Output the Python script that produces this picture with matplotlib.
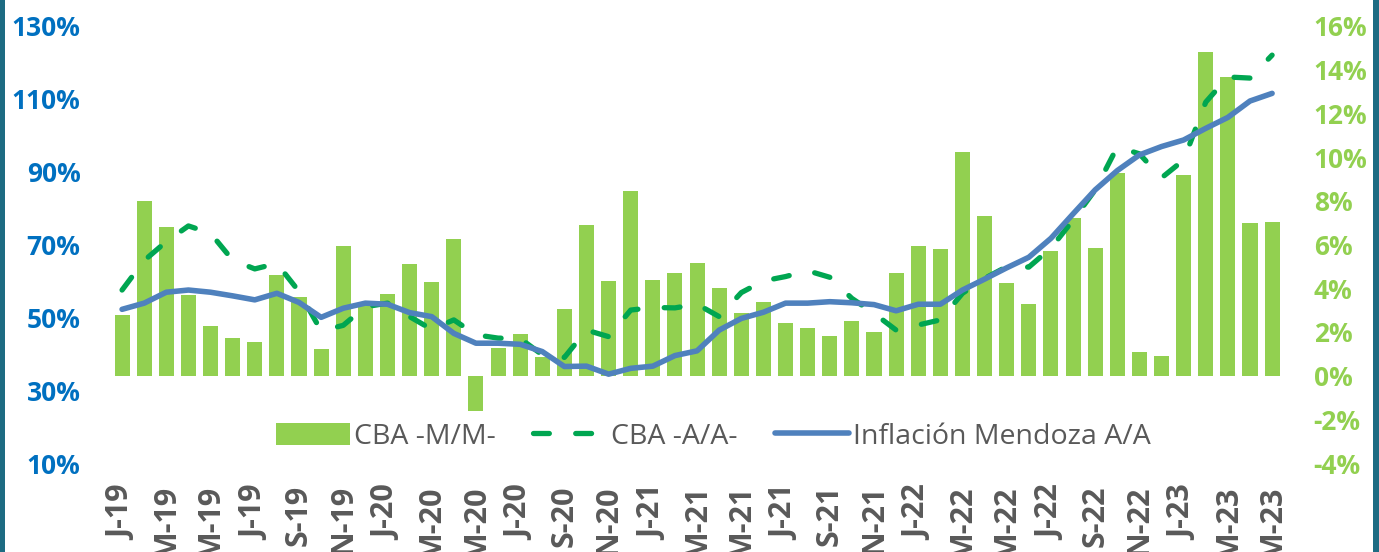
import numpy as np
import matplotlib
matplotlib.use("Agg")
import matplotlib.pyplot as plt
from matplotlib.patches import Rectangle

# meses ene-19 .. may-23
tick_labels = ["J-19", "M-19", "M-19", "J-19", "S-19", "N-19",
               "J-20", "M-20", "M-20", "J-20", "S-20", "N-20",
               "J-21", "M-21", "M-21", "J-21", "S-21", "N-21",
               "J-22", "M-22", "M-22", "J-22", "S-22", "N-22",
               "J-23", "M-23", "M-23"]

# CBA variacion mensual (eje derecho, %)
cba_mm = [2.79, 7.98, 6.81, 3.71, 2.29, 1.74, 1.52, 4.61, 3.62, 1.22,
          5.92, 3.25, 3.74, 5.09, 4.29, 6.26, -1.63, 1.25, 1.92, 0.87,
          3.07, 6.90, 4.32, 8.47, 4.36, 4.70, 5.17, 4.00, 2.88, 3.39,
          2.43, 2.20, 1.82, 2.52, 1.98, 4.70, 5.94, 5.80, 10.24, 7.32,
          4.22, 3.26, 5.72, 7.23, 5.84, 9.28, 1.08, 0.92, 9.19, 14.83,
          13.65, 6.99, 7.05]

# CBA variacion anual (eje izquierdo, %)
cba_aa = [57.5, 65.6, 70.8, 75.1, 73.1, 65.7, 63.3, 64.8, 57.1, 46.3,
          47.8, 52.9, 53.9, 50.2, 46.7, 49.3, 45.2, 44.3, 44.2, 39.7,
          39.0, 46.5, 44.7, 52.0, 52.7, 52.6, 53.6, 50.2, 56.8, 60.0,
          61.2, 62.8, 61.0, 55.2, 51.1, 46.5, 47.9, 49.3, 56.6, 60.7,
          63.9, 63.8, 69.0, 76.7, 85.0, 96.8, 94.9, 88.3, 93.2, 109.1,
          116.0, 115.7, 122.0]

# inflacion Mendoza anual (eje izquierdo, %)
infl_aa = [52.2, 53.9, 56.9, 57.5, 56.9, 55.9, 54.8, 56.6, 54.1, 50.0,
           52.5, 53.9, 53.6, 51.3, 50.2, 45.6, 42.9, 42.9, 42.6, 40.6,
           36.5, 36.6, 34.4, 36.0, 36.6, 39.5, 40.8, 46.5, 49.7, 51.4,
           53.9, 53.9, 54.3, 54.0, 53.5, 51.8, 53.6, 53.6, 57.5, 60.5,
           63.6, 66.5, 71.7, 78.4, 85.0, 90.3, 94.6, 96.9, 98.7, 101.9,
           104.9, 109.4, 111.5]

x = np.arange(len(cba_mm))

plt.rcParams["font.family"] = ["Open Sans", "DejaVu Sans"]
plt.rcParams["font.weight"] = "bold"

fig = plt.figure(figsize=(13.79, 5.52), dpi=100)
ax = fig.add_axes([0.0805, 0.1612, 0.850, 0.7917])
ax2 = ax.twinx()

bars = ax2.bar(x, cba_mm, width=0.68, color="#92D050", label="CBA -M/M-")
l1, = ax.plot(x, cba_aa, color="#00A651", lw=3.8, dashes=(3.0, 5.0),
              dash_capstyle="round", label="CBA -A/A-")
l2, = ax.plot(x, infl_aa, color="#4F81BD", lw=4.0, solid_capstyle="round",
              label="Inflación Mendoza A/A")

# lineas por encima de las barras
ax.set_zorder(ax2.get_zorder() + 1)
ax.patch.set_visible(False)

ax.set_xlim(-0.5, len(x) - 0.5)
ax.set_ylim(10, 130)
ax2.set_ylim(-4, 16)
ax.set_yticks(np.arange(10, 131, 20))
ax.set_yticklabels([f"{v}%" for v in range(10, 131, 20)])
ax2.set_yticks(np.arange(-4, 17, 2))
ax2.set_yticklabels([f"{v}%" for v in range(-4, 17, 2)])
ax.set_xticks(x[::2])
ax.set_xticklabels(tick_labels, rotation=90, va="top", ha="center")

for a in (ax, ax2):
    for s in a.spines.values():
        s.set_visible(False)
    a.tick_params(length=0)

ax.tick_params(axis="y", pad=22, labelsize=19, labelcolor="#0070C0")
ax2.tick_params(axis="y", pad=22, labelsize=19, labelcolor="#92D050")
ax.tick_params(axis="x", pad=16, labelsize=22, labelcolor="#595959")

leg = ax.legend([bars, l1, l2], [bars.get_label(), l1.get_label(), l2.get_label()],
                loc="center", bbox_to_anchor=(0.514, 0.06), ncol=3, frameon=False,
                handlelength=2.6, handleheight=0.8, handletextpad=0.15,
                columnspacing=1.3,
                prop={"family": "Open Sans", "size": 20.5, "weight": "normal"})
for t in leg.get_texts():
    t.set_color("#595959")

# bordes del fondo
fig.add_artist(Rectangle((0, 0), 5 / 1379, 1, transform=fig.transFigure,
                         color="#1D6B82", lw=0))
fig.add_artist(Rectangle((1373 / 1379, 0), 6 / 1379, 1, transform=fig.transFigure,
                         color="#1D6B82", lw=0))

fig.savefig("out.png", dpi=100)
